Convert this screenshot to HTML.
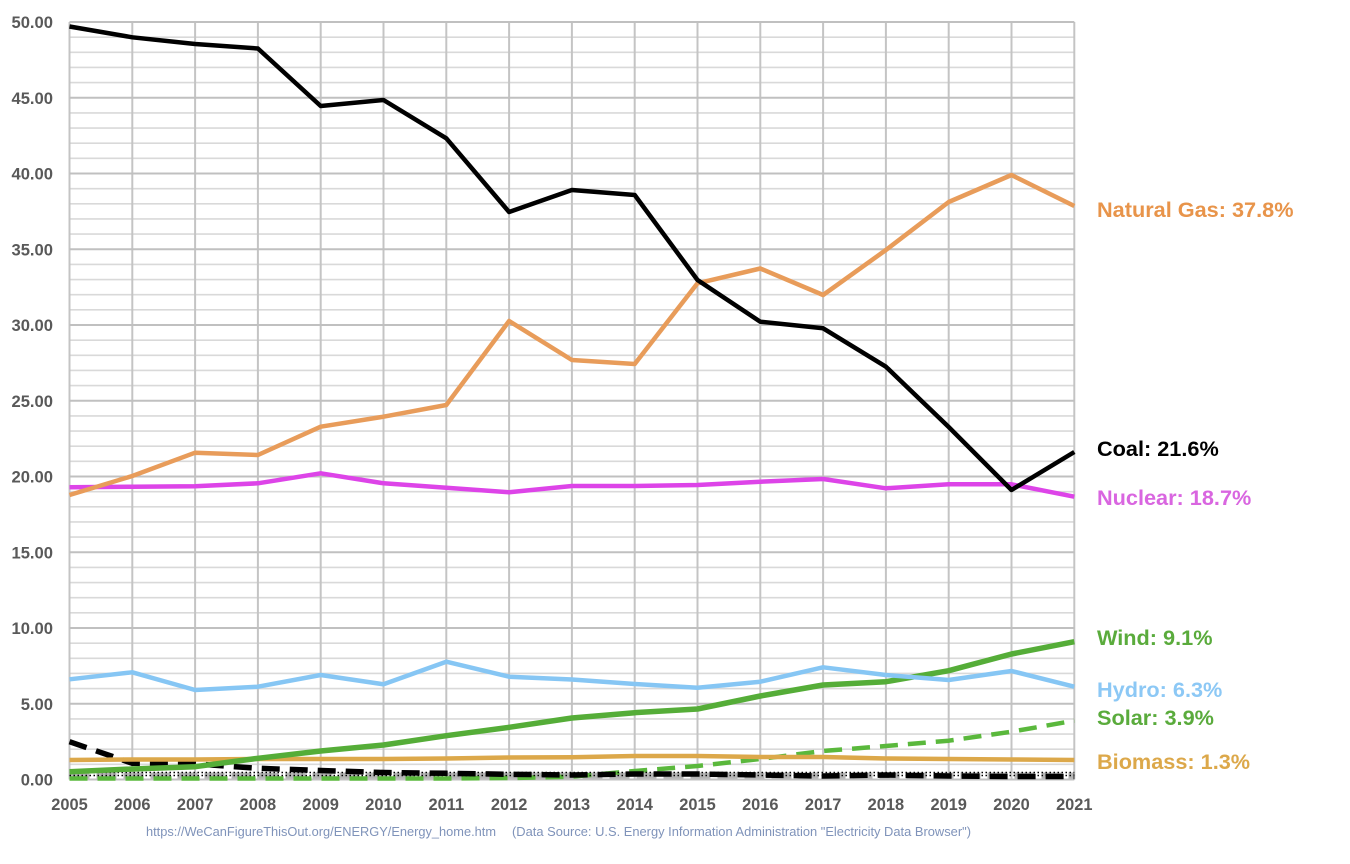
<!DOCTYPE html>
<html>
<head>
<meta charset="utf-8">
<style>
  html, body { margin:0; padding:0; background:#ffffff; }
  body { width:1350px; height:864px; overflow:hidden; }
  svg { display:block; }
  .yl { font-family:"Liberation Sans", Arial, sans-serif; font-weight:bold; font-size:16.6px; fill:#595959; }
  .xl { font-family:"Liberation Sans", Arial, sans-serif; font-weight:bold; font-size:16.4px; fill:#595959; }
  .lab { font-family:"Liberation Sans", Arial, sans-serif; font-weight:bold; font-size:21.7px; }
  .foot { font-family:"Liberation Sans", Arial, sans-serif; font-size:12.5px; fill:#7f93ba; }
</style>
</head>
<body>
<svg width="1350" height="864" viewBox="0 0 1350 864" xmlns="http://www.w3.org/2000/svg">
  <rect width="1350" height="864" fill="#ffffff"/>
  <g id="grid"></g>
  <g id="series"></g>
  <g id="labels"></g>

  <!-- right labels -->
  <text class="lab" x="1097" y="217" fill="#e8944a">Natural Gas: 37.8%</text>
  <text class="lab" x="1097" y="456" fill="#000000">Coal: 21.6%</text>
  <text class="lab" x="1097" y="505" fill="#d966e0">Nuclear: 18.7%</text>
  <text class="lab" x="1097" y="645" fill="#5aab3c">Wind: 9.1%</text>
  <text class="lab" x="1097" y="697" fill="#8cc8f5">Hydro: 6.3%</text>
  <text class="lab" x="1097" y="725" fill="#5aab3c">Solar: 3.9%</text>
  <text class="lab" x="1097" y="769" fill="#dca84a">Biomass: 1.3%</text>

  <!-- footer -->
  <text class="foot" x="146" y="836" textLength="350" lengthAdjust="spacingAndGlyphs">https://WeCanFigureThisOut.org/ENERGY/Energy_home.htm</text>
  <text class="foot" x="512" y="836" textLength="459" lengthAdjust="spacingAndGlyphs">(Data Source: U.S. Energy Information Administration "Electricity Data Browser")</text>
</svg>
<script>
(function(){
  var NS="http://www.w3.org/2000/svg";
  var svg=document.querySelector('svg');
  var grid=document.getElementById('grid');
  var series=document.getElementById('series');
  var labels=document.getElementById('labels');
  var x0=69.5, dx=62.8, yTop=22, yBot=779.5;
  function X(i){return x0+dx*i;}
  function Yv(v){return yBot-(yBot-yTop)*v/50;}
  function el(tag,attrs,parent){var e=document.createElementNS(NS,tag);for(var k in attrs)e.setAttribute(k,attrs[k]);(parent||svg).appendChild(e);return e;}
  for(var v=0;v<=50;v++){
    if(v%5!==0){el('line',{x1:x0,x2:X(16),y1:Yv(v),y2:Yv(v),stroke:'#d9d9d9','stroke-width':1.6},grid);}
  }
  for(var i=0;i<=16;i++){
    el('line',{x1:X(i),x2:X(i),y1:yTop,y2:yBot,stroke:'#c4c4c4','stroke-width':2},grid);
  }
  for(var v=0;v<=50;v+=5){
    el('line',{x1:x0,x2:X(16),y1:Yv(v),y2:Yv(v),stroke:'#c0c0c0','stroke-width':2},grid);
    var t=el('text',{x:53,y:Yv(v)+6,'text-anchor':'end','class':'yl'},labels);
    t.textContent=v.toFixed(2);
  }
  for(var i=0;i<=16;i++){
    var t=el('text',{x:X(i),y:810,'text-anchor':'middle','class':'xl'},labels);
    t.textContent=String(2005+i);
  }
  function pts(arr){return arr.map(function(y,i){return X(i).toFixed(1)+','+y;}).join(' ');}
  function line(arr,color,w,dash,cap){
    var a={points:pts(arr),fill:'none',stroke:color,'stroke-width':w,'stroke-linejoin':'round','stroke-linecap':cap||'butt'};
    if(dash)a['stroke-dasharray']=dash;
    el('polyline',a,series);
  }
  var coal=[26.5,37.3,44,48.5,106,100,138.3,212,190,195,280,321.7,328.3,366.7,427,490,452];
  var gas=[495,476,452.7,455,426.7,416.7,405,321,360,364,283.3,268.5,295,250,202,175,206];
  var nuc=[487.3,486.7,486.3,483.3,473.3,483.3,487.7,492.3,486,486,485,481.7,479,488.3,484.3,484.3,496.7];
  var hydro=[679.3,672.3,690,686.7,675,684.3,661.7,676.7,679.5,684,687.7,681.7,667.3,675,680,671,686.7];
  var wind=[771.7,769,766.7,758.3,751,745,735.7,727.3,718,712.7,709,696,685,681.7,670.7,654,641.7];
  var solar=[778.5,778.5,778.5,778.5,778.5,778.5,778.5,778,776.7,771,766,759,751,746,740.7,731.7,720.7];
  var bio=[760,759.5,759.5,759,759,759,758.5,757.5,757.3,756,756,757,757,758.5,759,759.5,760];
  var oil=[741.7,763.3,763.8,768.3,770.5,772.5,773.3,774.3,775,774,774,775,776,775,776,776.5,776.5];
  var other=[];for(var k=0;k<17;k++)other.push(775.5);
  var other2=[];for(var k=0;k<17;k++)other2.push(772.5);
  line(other,'#b4b4b4',6,'20 7');
  line(solar,'#5ab83c',4.5,'18 10');
  line(other2,'#000000',1.6,'1.5 2.5');
  line(other,'#000000',1.6,'1.5 2.5');
  line(oil,'#000000',5.5,'18 10');
  line(bio,'#dca84a',4.5);
  line(wind,'#55ad38',5.5);
  line(hydro,'#86c6f4',4.5);
  line(nuc,'#dd44e8',4.5);
  line(gas,'#e89c5a',4.5);
  line(coal,'#000000',4.5);
})();
</script>
</body>
</html>
